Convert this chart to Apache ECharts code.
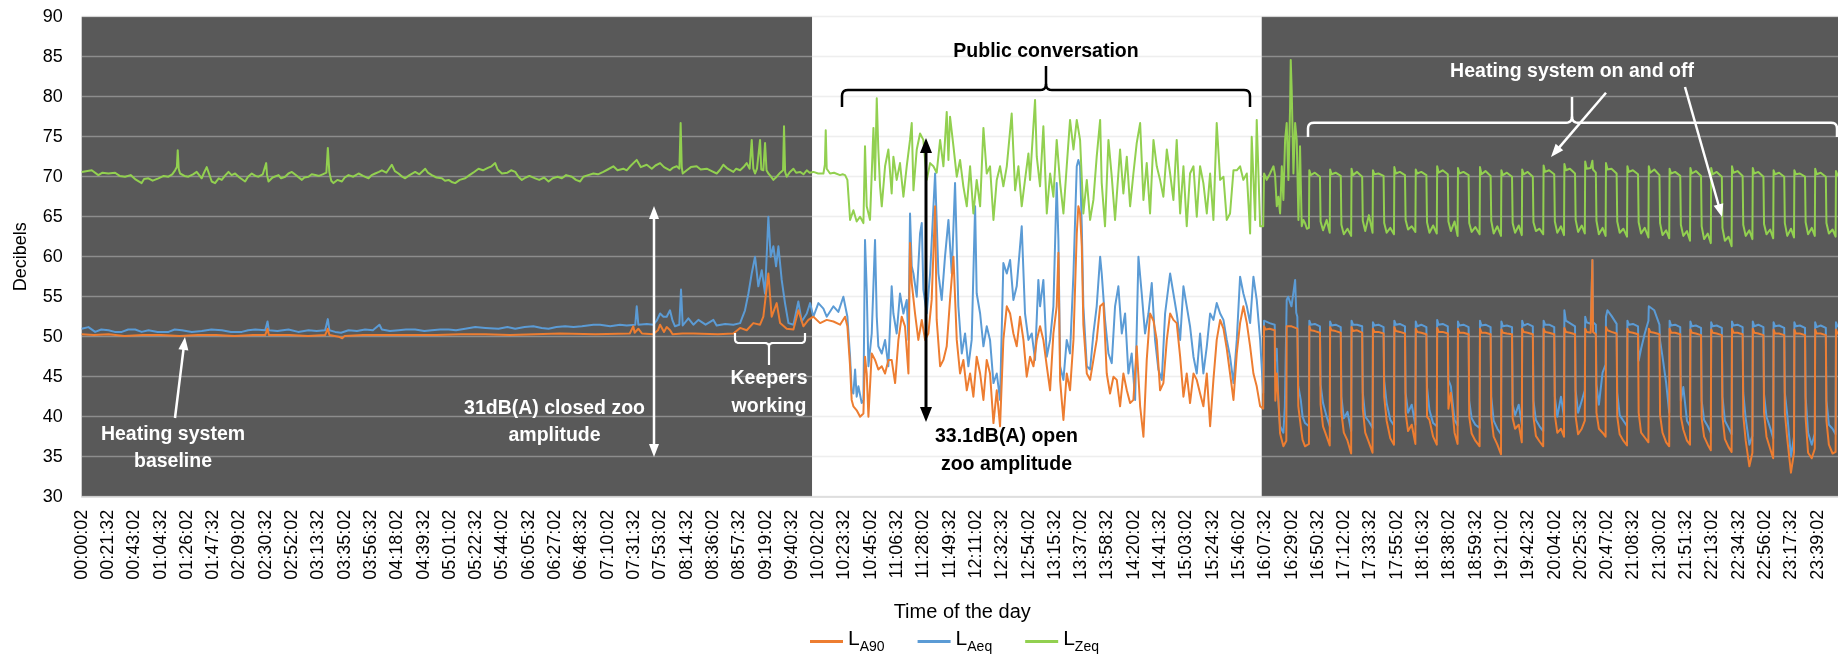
<!DOCTYPE html>
<html><head><meta charset="utf-8">
<script src="https://cdn.jsdelivr.net/npm/echarts/dist/echarts.min.js"></script>
<style>html,body{margin:0;padding:0;background:#fff}#c{width:1838px;height:656px}</style>
</head><body><div id="c"></div>
<script>
// x values: minutes after 00:00:02 ; y values: dB
const seriesNames = ['LA90', 'LAeq', 'LZeq'];
const yTicks = {min: 30, max: 90, step: 5};
const xTickStepMin = 21.5;           // one label every 21 min 30 s
const closedBands = [[0, 597], [964.6, 1439.5]];

const zeqNight = [[0,70.6],[8.2,70.8],[13.6,70.2],[17,70.5],[21.8,70.4],[27.3,70.5],[31,70.1],[35.4,70.0],[40,70.2],[43.6,69.7],[49,69.2],[51,69.7],[54.5,69.8],[58,69.5],[62.7,69.8],[67,70.1],[70.9,70.0],[74,70.3],[76.3,70.8],[77.8,71.2],[78.5,73.3],[79.3,71.0],[80.4,70.4],[84,70.1],[87.2,70.0],[91,70.3],[94,70.6],[98.1,69.8],[100,70.5],[102.2,71.2],[104,70.4],[106.3,69.4],[109,69.2],[112,69.8],[114.5,69.6],[117,70.1],[120,70.6],[122.5,70.2],[125.4,70.4],[129,69.9],[133.6,69.4],[136,70.0],[139,70.4],[142,70.1],[144.5,70.0],[148,70.3],[150.8,71.7],[151.5,70.2],[152.7,69.4],[156,69.9],[160.9,70.2],[163,69.8],[166.3,70.0],[169,70.4],[171.8,70.6],[175,70.2],[180,69.6],[182,69.9],[185.4,70.0],[188,70.3],[190.9,70.2],[194,70.1],[197,70.3],[200,70.5],[201.2,73.6],[202.4,70.6],[204,69.5],[205.8,69.2],[209,69.6],[212.7,69.4],[215,69.9],[218.1,70.2],[222,70.0],[226.3,70.4],[230,70.1],[234.5,69.8],[237,70.2],[239.9,70.4],[243,70.6],[245.4,70.8],[249,70.5],[253.5,71.5],[256,70.7],[259,70.4],[262,70.0],[264.4,69.8],[268,70.2],[272.6,70.6],[276,70.3],[280.8,71.0],[283,70.5],[286.2,70.2],[290,69.9],[294.4,69.8],[297,69.5],[299.9,69.6],[303,69.3],[305.3,69.2],[309,69.6],[313.5,69.8],[317,70.2],[320,70.5],[324.4,71.0],[328,70.8],[332,71.1],[335,71.3],[338,71.7],[340,70.9],[343.5,70.4],[348,70.5],[351,70.8],[354.4,70.6],[357,70.0],[359.8,69.6],[363,69.9],[366,70.1],[370.7,69.8],[374,69.6],[378,69.9],[381.6,69.4],[385,69.8],[389,70.0],[392.5,69.8],[396,70.2],[400.7,70.0],[404,69.6],[407.4,69.4],[410.1,70.0],[414,70.2],[418.3,70.4],[422,70.3],[426.4,70.6],[430,70.9],[434.6,71.3],[438,70.8],[442.8,71.0],[445.5,70.8],[449,71.4],[453.7,72.1],[457,71.2],[461.9,71.5],[466,71.0],[469,71.4],[472.8,71.7],[476,71.2],[480.9,70.8],[483,71.1],[486.4,71.3],[488.6,71.0],[489.6,76.7],[490.5,71.2],[491.3,70.4],[494.6,70.8],[498,71.2],[502.7,71.3],[506,70.9],[510.9,71.0],[515,70.7],[519.1,70.4],[522,70.9],[524.5,71.5],[528,71.0],[532.7,70.6],[535,71.0],[538.2,70.8],[541,71.2],[543.6,71.7],[546,71.0],[547.7,74.6],[549,71.0],[550.4,70.4],[552,71.0],[554.5,74.6],[555.5,70.9],[557.2,70.8],[558.6,74.2],[559.8,70.8],[561.3,70.4],[563,70.1],[565.4,69.6],[568.1,70.0],[571,70.5],[573.3,70.8],[574.1,76.3],[575,70.6],[576.3,70.0],[579,70.6],[581.8,71.0],[584,70.5],[587.2,70.6],[590,70.3],[592.7,70.8],[595,70.5],[598.1,70.6],[602,70.4],[606.3,70.4],[607.5,71.5],[608.2,75.8],[609,71.0],[611.7,70.4],[615,70.5],[619.9,70.2],[622,70.3],[624,70.2],[625.9,69.6]];

const aeqNight = [[0,51.0],[5.5,51.2],[11,50.6],[16,50.9],[21.9,50.8],[27,50.6],[32.8,50.6],[38,50.9],[43.7,50.9],[49,50.6],[54.6,50.8],[62,50.6],[71,50.6],[76,50.9],[81.9,50.8],[90,50.6],[98.2,50.7],[106,50.9],[114.6,50.8],[122,50.6],[130.9,50.6],[136,50.8],[141.8,50.9],[150,50.8],[151.9,51.9],[153,50.8],[160,50.7],[169,50.9],[177,50.6],[185.4,50.8],[192,50.7],[199,50.8],[201.2,52.2],[202.5,50.8],[207.2,50.6],[212,50.5],[218.1,50.8],[225,50.7],[231.7,50.9],[238,50.8],[243.4,51.5],[245.4,50.9],[252,50.7],[259,50.8],[265,50.9],[272.6,50.9],[280,50.7],[286.2,50.8],[293,50.9],[299.9,50.9],[306,50.8],[313.5,51.0],[321.7,51.2],[330,51.1],[340.7,51.0],[348,51.2],[354.4,51.0],[362,51.2],[369.2,51.3],[376,51.1],[381.6,51.0],[388,51.2],[395.2,51.3],[402,51.2],[408.9,51.3],[418.3,51.5],[423.7,51.5],[432,51.3],[440,51.5],[445.5,51.4],[452.5,51.5],[453.7,53.8],[455,51.5],[462,51.6],[467.3,51.5],[470,52.0],[472.8,52.9],[475.5,52.5],[478.2,52.5],[480.9,53.3],[483,52.0],[485,51.3],[488.5,51.5],[489.9,55.9],[491.3,51.4],[495.9,52.3],[500,51.5],[504.1,52.1],[510,51.5],[516.4,52.1],[519,51.4],[526,51.6],[532.7,51.5],[538.2,51.7],[542.2,53.3],[545,55.4],[547.7,57.9],[550.4,60.0],[553.1,56.3],[555.9,58.3],[558.6,55.4],[561.3,65.0],[563.2,60.0],[565.4,61.3],[567.6,58.8],[569.5,61.3],[572.2,57.1],[574.9,54.2],[577.7,51.7],[581.8,51.5],[585.8,54.4],[588.6,51.9],[592.7,52.9],[595.4,54.2],[598.1,52.5],[602.2,54.2],[606.3,53.5],[609,52.5],[614.5,53.8],[618.5,53.1],[622.6,55.0],[625.9,52.5]];

const a90Night = [[0,50.3],[10,50.2],[22,50.3],[35,50.1],[50,50.2],[65,50.2],[80,50.1],[95,50.2],[110,50.2],[125,50.1],[140,50.2],[150,50.2],[151.9,51.0],[153,50.2],[170,50.2],[185,50.1],[199,50.2],[201.2,51.0],[202.5,50.2],[210,50.0],[211.5,49.8],[213,49.8],[215,50.1],[230,50.2],[250,50.2],[270,50.2],[290,50.2],[310,50.3],[330,50.3],[350,50.2],[370,50.3],[391,50.4],[420,50.3],[448,50.4],[450.9,51.3],[452,50.5],[455,51.0],[458,50.4],[467,50.3],[471,50.8],[472.8,51.5],[476,50.6],[478.2,51.2],[481,50.8],[483,50.3],[491,50.4],[500,50.4],[520,50.3],[532.7,50.4],[538.2,51.1],[543.6,50.8],[549,51.7],[554.5,51.5],[557.2,52.5],[561.3,57.9],[564,52.5],[568.1,54.2],[570.9,51.7],[576.3,51.0],[581.8,50.9],[585.8,53.3],[589.9,51.3],[594,52.1],[598.1,52.5],[603.6,51.7],[609,52.1],[614.5,51.9],[619.9,51.5],[624,52.5],[625.9,51.3]];

const zeqDay = [[628.1,64.6],[630.8,65.8],[633.5,64.4],[636.3,65.0],[639,64.2],[640.3,73.8],[641.7,66.3],[644.4,64.6],[647.2,76.1],[648.5,69.6],[649.9,79.8],[651.2,73.4],[652.6,68.8],[654,66.3],[656.7,71.3],[659.4,73.4],[662.1,67.9],[663.5,72.5],[666.2,69.6],[668.9,71.7],[671.7,67.5],[674.4,71.3],[677.1,74.6],[678.5,76.7],[679.9,68.3],[682.6,73.4],[685.3,75.4],[688,74.6],[690.8,69.6],[693.5,71.7],[696.2,71.3],[698.9,70.5],[701.7,74.6],[704.4,71.3],[707.1,78.1],[708.5,72.1],[709.8,77.5],[712.6,73.8],[715.3,70.0],[718,72.1],[720.7,68.8],[723.5,66.3],[726.2,71.3],[728.9,65.4],[731.6,69.6],[734.4,66.3],[737.1,76.1],[739.8,70.4],[742.5,71.3],[745.3,64.6],[748,69.6],[750.7,71.3],[753.4,68.8],[756.2,71.3],[760.2,77.9],[763,68.3],[765.7,71.3],[768.4,66.3],[771.1,69.6],[773.9,72.9],[775.2,69.6],[779.3,79.6],[780.7,72.5],[783.4,68.8],[786.1,76.3],[788.9,65.4],[791.6,70.4],[794.3,67.5],[797,74.6],[799.8,69.2],[802.5,65.4],[805.2,71.3],[807.9,77.1],[810.7,73.4],[813.4,77.1],[816.1,74.6],[818.8,65.4],[821.6,69.6],[824.3,64.6],[827,67.1],[829.7,72.5],[832.5,77.1],[833.8,69.2],[836.5,63.8],[839.3,74.6],[842,70.0],[844.7,64.6],[847.4,70.4],[848.8,73.4],[851.5,67.9],[854.3,72.5],[857,66.3],[859.7,70.4],[862.4,74.2],[865.2,76.7],[867.9,67.1],[870.6,71.7],[873.3,65.4],[876.1,74.6],[878.8,71.3],[881.5,69.6],[884.2,67.5],[887,73.4],[889.7,70.4],[892.4,67.1],[895.1,74.6],[897.9,65.4],[900.6,71.3],[903.3,63.8],[906,70.4],[908.8,71.3],[911.5,65.0],[914.2,71.3],[916.9,69.2],[919.7,65.4],[922.4,70.4],[925.1,64.6],[927.8,76.7],[930.6,69.6],[933.3,70.0],[936,64.6],[938.7,65.4],[941.5,70.8],[944.2,70.8],[946.9,71.3],[949.6,69.6],[952.4,70.4],[955.1,62.9],[956.4,75.0],[959.2,64.6],[960.5,77.1],[963.3,63.8],[965.8,63.8],[966.5,70.4],[968.7,69.6],[971.4,70.4],[974.2,71.3],[975.5,70.2],[976.9,66.3],[978.2,67.5],[979.6,65.4],[981,71.3],[982.3,67.1],[983.7,74.6],[985,76.7],[986.4,69.6],[987.8,78.8],[988.3,84.6],[989.1,80.8],[990.5,70.4],[991.9,76.7],[993.2,74.6],[994.6,64.6],[995.9,73.8],[997.3,63.8],[998.7,64.6],[1000,64.2],[1001.5,63.5],[1003.2,63.6]];

const aeqDay = [[628.1,47.5],[629.4,43.3],[630.8,42.9],[632.2,45.9],[633.5,42.5],[634.9,43.8],[637.6,41.7],[639,42.1],[640.3,62.1],[641.7,55.9],[643.1,46.3],[645.8,50.4],[648.5,62.1],[649.9,52.5],[651.2,48.8],[654,47.9],[656.7,49.6],[659.4,46.3],[662.1,56.3],[663.5,52.9],[666.2,50.4],[668.9,55.4],[671.7,52.9],[674.4,54.6],[675.8,49.6],[677.1,65.4],[678.5,58.8],[679.9,57.9],[682.6,55.0],[685.3,62.9],[686.7,64.2],[688,55.9],[690.8,52.9],[693.5,57.9],[697.6,70.4],[700.3,57.9],[703,54.6],[705.7,60.0],[708.5,64.6],[711.2,57.9],[713.9,69.2],[716.6,53.8],[719.4,47.9],[722.1,50.4],[724.8,46.3],[727.5,49.6],[730.3,66.3],[731.6,55.4],[734.4,52.9],[737.1,48.8],[739.8,51.3],[742.5,49.6],[745.3,44.2],[748,45.4],[750.7,42.1],[753.4,59.2],[756.2,57.9],[758.9,59.6],[761.6,54.6],[764.3,56.3],[768.4,63.8],[771.1,52.9],[773.9,49.6],[776.6,50.4],[779.3,47.1],[782,57.1],[783.4,53.8],[786.1,57.1],[788.9,47.5],[791.6,49.6],[794.3,53.8],[797,69.2],[798.4,62.1],[799.8,46.3],[802.5,44.6],[805.2,49.6],[807.9,47.9],[810.7,57.9],[813.4,71.3],[814.7,72.1],[816.1,71.3],[817.5,63.8],[818.8,53.8],[821.6,46.3],[824.3,45.9],[827,50.4],[829.7,53.8],[832.5,60.0],[833.8,57.9],[836.5,52.1],[839.3,47.9],[842,46.7],[844.7,53.8],[847.4,56.3],[850.2,50.4],[852.9,52.9],[855.6,45.4],[858.3,47.9],[861.1,42.1],[863.8,60.0],[866.5,55.4],[869.2,50.4],[872,52.9],[874.7,56.7],[877.4,49.6],[880.1,45.9],[882.9,44.6],[885.6,52.9],[889.7,57.9],[892.4,55.4],[895.1,52.9],[897.9,49.6],[900.6,56.3],[903.3,53.8],[906,51.3],[908.8,47.5],[911.5,45.4],[914.2,50.4],[916.9,45.4],[919.7,48.8],[922.4,52.9],[925.1,52.1],[927.8,54.2],[930.6,52.9],[933.3,52.1],[936,49.6],[938.7,47.5],[941.5,44.2],[944.2,49.6],[946.9,57.5],[949.6,55.4],[952.4,53.8],[955.1,51.7],[957.8,57.5],[960.5,54.6],[963.3,49.6],[965.8,43.0],[966.5,52.0],[967.7,51.8],[971,51.7],[975.2,51.5],[975.7,47.0],[976.9,48.5],[978.2,42.0],[979.6,38.8],[982.3,38.0],[983.5,41.3],[985,54.6],[986.2,55.0],[988.9,53.8],[990.5,55.5],[991.9,57.1],[992.8,53.0],[993.7,52.5],[994.5,43.8],[996.5,42.1],[998,40.0],[1000,39.2],[1003.2,38.8]];

const a90Day = [[628.1,46.3],[629.4,42.1],[630.8,41.3],[633.5,40.8],[636.3,40.0],[639,40.4],[640.3,47.5],[641.7,45.4],[643.1,40.0],[645.8,47.9],[648.5,47.1],[651.2,45.9],[654,46.3],[656.7,45.4],[659.4,47.1],[662.1,47.1],[664.9,44.2],[667.6,49.6],[670.3,52.5],[673,51.3],[675.8,45.4],[677.1,61.7],[678.5,56.7],[681.2,52.9],[683.9,49.6],[686.7,52.1],[689.4,49.6],[692.1,50.4],[694.8,54.6],[697.6,66.3],[698.9,52.1],[701.7,46.3],[704.4,47.1],[707.1,48.8],[709.8,54.6],[712.6,60.0],[715.3,49.6],[718,45.4],[720.7,47.1],[723.5,43.3],[726.2,45.4],[728.9,42.5],[731.6,47.5],[734.4,45.4],[737.1,42.1],[739.8,47.1],[742.5,45.4],[745.3,39.2],[748,43.3],[750.7,38.8],[753.4,49.6],[756.2,53.8],[758.9,52.9],[761.6,50.4],[764.3,48.8],[767,52.5],[769.8,49.6],[772.5,45.0],[775.2,47.5],[778,46.3],[780.7,49.6],[783.4,51.3],[786.1,49.6],[788.9,46.3],[791.6,43.3],[794.3,50.4],[797,53.8],[798.4,60.5],[799.8,44.5],[801.1,42.1],[802.5,39.6],[805.2,45.4],[807.9,43.3],[810.7,49.6],[813.4,62.9],[814.7,66.3],[816.1,65.4],[817.5,61.3],[818.8,51.5],[821.6,45.4],[824.3,44.6],[827,47.1],[829.7,49.6],[832.5,53.8],[835.2,54.2],[837.9,45.4],[840.6,42.9],[843.4,45.0],[846.1,44.6],[848.8,41.3],[851.5,45.4],[854.3,43.3],[857,41.7],[859.7,42.1],[862.4,48.8],[865.2,41.3],[867.9,37.5],[870.6,47.1],[873.3,52.9],[876.1,52.0],[878.8,49.6],[881.5,43.3],[884.2,44.2],[887,49.6],[889.7,52.9],[892.4,52.1],[895.1,51.7],[897.9,47.5],[900.6,42.5],[903.3,45.4],[906,41.7],[908.8,45.4],[911.5,44.6],[914.2,42.9],[916.9,41.3],[919.7,45.4],[922.4,38.8],[925.1,44.6],[927.8,49.6],[930.6,52.1],[933.3,51.0],[936,48.5],[938.7,45.4],[941.5,42.1],[944.2,47.9],[946.9,51.7],[949.6,53.8],[952.4,51.7],[955.1,48.8],[957.8,45.4],[960.5,43.8],[963.3,41.3],[965.8,41.0],[966.5,51.3],[967.7,50.9],[971,51.0],[975.2,50.8],[975.7,42.0],[976.9,45.4],[978.2,42.1],[979.6,37.9],[982.3,36.3],[984.7,37.0],[985,51.3],[986.5,51.3],[989,51.3],[993.7,51.0],[994.5,41.3],[996.5,38.8],[998,37.1],[1000,36.3],[1003.2,36.6]];

// heating on/off cycles: one row per cycle
const eveningTimes = [
1003.5,1004.7,1008,1012.2,1012.7,1014.7,1017.7,1020.2,
1020.5,1021.7,1025,1029.2,1029.7,1031.7,1034.7,1037.7,
1038,1039.2,1042.5,1046.7,1047.2,1049.2,1052.2,1055.2,
1055.5,1056.7,1060,1064.2,1064.7,1066.7,1069.7,1072.7,
1073,1074.2,1077.5,1081.7,1082.2,1084.2,1087.2,1090.2,
1090.5,1091.7,1095,1099.2,1099.7,1101.7,1104.7,1107.7,
1108,1109.2,1112.5,1116.7,1117.2,1119.2,1122.2,1124.7,
1125,1126.2,1129.5,1133.7,1134.2,1136.2,1139.2,1142.7,
1143,1144.2,1147.5,1151.7,1152.2,1154.2,1157.2,1160.2,
1160.5,1161.7,1165,1169.2,1169.7,1171.7,1174.7,1177.2,
1177.5,1178.7,1182,1186.2,1186.7,1188.7,1191.7,1194.7,
1195,1196.2,1199.5,1203.7,1204.2,1206.2,1209.2,1211.7,
1212,1213.2,1216.5,1220.7,1221.2,1223.2,1226.2,1228.7,
1229,1230.2,1233.5,1234.4,1234.9,1235.4,1237.7,1238.2,1240.2,1243.2,1245.7,
1246,1247.2,1250.5,1254.7,1255.2,1257.2,1260.2,1263.2,
1263.5,1264.7,1268,1272.2,1272.7,1274.7,1277.7,1280.7,
1281,1282.2,1285.5,1289.7,1290.2,1292.2,1295.2,1297.7,
1298,1299.2,1302.5,1306.7,1307.2,1309.2,1312.2,1314.7,
1315,1316.2,1319.5,1323.7,1324.2,1326.2,1329.2,1331.7,
1332,1333.2,1336.5,1340.7,1341.2,1343.2,1346.2,1348.7,
1349,1350.2,1353.5,1357.7,1358.2,1360.2,1363.2,1365.7,
1366,1367.2,1370.5,1374.7,1375.2,1377.2,1380.2,1382.7,
1383,1384.2,1387.5,1391.7,1392.2,1394.2,1397.2,1399.7,
1400,1401.2,1404.5,1408.7,1409.2,1411.2,1414.2,1416.7,
1417,1418.2,1421.5,1425.7,1426.2,1428.2,1431.2,1433.7,
1434,1435.2,1438.5,1439.5];

const a90Evening = [
51.3,50.8,50.7,50.5,41.5,38.8,37.5,36.4,
51.2,50.8,50.7,50.5,40.5,38.0,37.0,35.4,
51.2,50.7,50.8,50.5,41.0,38.0,36.8,35.5,
51.0,50.6,50.6,50.4,42.5,39.5,37.3,36.5,
51.2,50.7,50.6,50.4,40.5,38.2,39.0,36.6,
51.0,50.6,50.5,50.3,40.0,39.6,37.5,36.5,
51.1,50.6,50.6,50.4,41.0,43.0,38.0,36.6,
51.0,50.5,50.5,50.3,40.0,37.9,37.0,36.3,
51.0,50.5,50.5,50.3,40.0,37.5,36.5,35.3,
50.9,50.5,50.4,50.3,39.8,38.5,39.0,36.8,
51.0,50.6,50.5,50.3,40.0,37.6,36.9,36.3,
51.0,50.6,50.5,50.3,40.2,38.0,38.5,37.5,
51.1,50.6,50.5,50.3,40.0,37.8,38.5,39.5,
51.0,50.6,50.5,50.5,59.6,50.6,50.3,40.5,38.5,38.0,37.5,
51.2,50.8,50.6,50.4,40.0,37.8,37.0,36.4,
51.0,50.6,50.5,50.3,40.5,38.0,37.4,36.8,
51.0,50.6,50.5,50.3,40.2,38.0,36.8,36.3,
51.0,50.5,50.5,50.3,40.0,38.4,37.0,36.5,
50.9,50.5,50.4,50.2,39.8,37.5,36.5,35.8,
50.9,50.5,50.4,50.2,40.0,37.2,36.2,35.6,
51.0,50.5,50.5,50.3,40.2,37.0,33.8,35.5,
51.0,50.5,50.4,50.2,40.5,37.5,36.0,34.8,
50.9,50.4,50.4,50.2,40.5,37.2,33.0,35.5,
50.9,50.4,50.4,50.2,39.8,35.5,34.8,36.0,
50.9,50.4,50.4,50.2,39.5,36.5,35.4,35.6,
50.9,50.4,50.4,50.3];

const aeqEvening = [
52.0,51.5,51.6,51.3,44.0,41.7,40.0,38.8,
51.9,51.4,51.5,51.2,42.5,39.8,40.6,38.2,
52.0,51.5,51.5,51.3,43.0,40.0,39.4,38.6,
51.8,51.4,51.5,51.2,44.5,41.7,39.6,38.9,
52.0,51.5,51.6,51.3,43.0,40.5,41.5,39.0,
51.9,51.3,51.5,51.2,43.7,40.8,39.2,38.8,
52.1,51.5,51.6,51.3,44.6,43.8,39.6,38.9,
51.9,51.4,51.5,51.2,42.0,39.8,39.0,38.6,
52.0,51.4,51.5,51.2,42.5,39.5,38.5,37.8,
51.9,51.3,51.4,51.2,41.5,40.2,41.5,39.0,
52.0,51.4,51.6,51.3,42.0,39.6,38.8,38.2,
52.0,51.5,51.5,51.2,42.5,40.0,42.5,40.0,
53.3,52.0,51.7,51.3,43.3,40.5,42.0,43.3,
52.5,51.8,51.6,51.6,59.6,51.8,51.5,44.0,41.5,45.5,46.5,
52.5,53.3,52.6,51.6,43.0,40.2,39.5,38.8,
52.0,51.5,51.6,51.3,47.0,48.5,50.4,52.0,
53.8,54.0,53.3,51.5,49.5,47.5,44.2,40.5,
52.0,51.4,51.5,51.2,42.0,43.7,39.5,38.8,
51.9,51.3,51.4,51.1,42.0,39.6,38.8,38.0,
51.8,51.3,51.4,51.1,42.5,39.5,38.6,37.8,
51.9,51.4,51.5,51.2,43.0,39.8,36.5,37.6,
51.9,51.3,51.5,51.2,42.8,40.0,38.6,37.3,
51.8,51.3,51.4,51.1,43.0,40.2,35.0,37.5,
51.8,51.3,51.4,51.1,42.5,38.0,36.5,37.9,
51.8,51.2,51.4,51.1,42.0,39.0,38.5,37.8,
51.8,51.3,51.4,51.2];

const zeqEvening = [
70.8,70.2,70.5,70.0,64.4,63.3,64.6,63.0,
70.9,70.3,70.5,70.1,64.0,62.8,63.5,62.6,
71.0,70.2,70.6,70.0,64.5,63.2,65.2,63.0,
70.8,70.3,70.4,70.1,64.2,63.0,63.6,62.8,
71.2,70.4,70.6,70.2,64.6,63.4,63.8,63.1,
70.9,70.4,70.6,70.2,64.3,63.0,63.9,62.9,
71.3,70.5,70.8,70.3,64.4,63.2,64.4,62.6,
71.1,70.4,70.6,70.2,64.2,63.1,63.7,62.8,
71.2,70.3,70.7,70.1,64.5,62.9,63.8,62.6,
70.8,70.2,70.5,70.0,64.2,63.0,63.9,62.7,
70.9,70.3,70.6,70.0,64.3,63.2,63.5,62.8,
71.4,70.6,70.8,70.3,64.4,63.0,63.8,62.7,
71.6,70.8,71.0,70.4,64.6,63.1,63.9,62.9,
71.9,71.0,71.1,71.2,72.0,70.9,70.5,64.5,62.8,63.6,62.6,
71.7,70.9,71.0,70.4,64.4,63.0,63.5,62.5,
71.3,70.6,70.8,70.3,64.3,62.9,63.6,62.4,
71.3,70.5,70.9,70.2,64.2,62.7,63.3,62.3,
71.0,70.4,70.6,70.1,64.0,62.6,63.2,62.0,
71.1,70.4,70.7,70.1,63.8,62.2,62.9,61.7,
71.1,70.3,70.6,70.0,63.6,62.0,62.5,61.3,
71.3,70.5,70.7,70.1,64.0,62.6,63.3,62.2,
71.1,70.4,70.6,70.0,64.1,62.8,63.4,62.3,
70.8,70.3,70.5,70.0,64.2,62.6,63.5,62.4,
70.8,70.3,70.4,70.0,64.3,62.8,63.6,62.6,
71.0,70.3,70.5,70.0,64.2,62.9,63.4,62.5,
70.7,70.2,70.5,70.1];

// ---------- build ----------
const pairs = (t, v) => t.slice(0, Math.min(t.length, v.length)).map((x, i) => [x, v[i]]);
const la90 = a90Night.concat(a90Day, pairs(eveningTimes, a90Evening));
const laeq = aeqNight.concat(aeqDay, pairs(eveningTimes, aeqEvening));
const lzeq = zeqNight.concat(zeqDay, pairs(eveningTimes, zeqEvening));

const FONT = '"Liberation Sans", Arial, sans-serif';
function fmtTime(v) {
  const s = Math.round(v * 60) + 2;
  const p = n => String(n).padStart(2, '0');
  return p(Math.floor(s / 3600)) + ':' + p(Math.floor((s % 3600) / 60)) + ':' + p(s % 60);
}

// ---------- annotation helpers ----------
const ANN = 'bold 19.5px ' + FONT;
function txt(x, y, s, color) {
  return {type: 'text', x, y, z: 100, silent: true,
    style: {text: s, fill: color, font: ANN, align: 'center', verticalAlign: 'middle'}};
}
function poly(points, color, w) {
  return {type: 'polyline', z: 100, silent: true, shape: {points},
    style: {stroke: color, lineWidth: w, fill: 'none', lineJoin: 'round'}};
}
function quad(p0, c, p1, n) {
  const out = [];
  for (let i = 1; i <= n; i++) {
    const t = i / n, a = (1 - t) * (1 - t), b = 2 * (1 - t) * t, d = t * t;
    out.push([a * p0[0] + b * c[0] + d * p1[0], a * p0[1] + b * c[1] + d * p1[1]]);
  }
  return out;
}
function brace(xl, xr, xc, yl, ye, yt, r, color, w) {
  const s1 = Math.sign(ye - yl), s2 = Math.sign(yt - yl);
  const left = [[xl, ye], [xl, yl + s1 * r]]
    .concat(quad([xl, yl + s1 * r], [xl, yl], [xl + r, yl], 5))
    .concat([[xc - r, yl]])
    .concat(quad([xc - r, yl], [xc, yl], [xc, yl + s2 * r], 5))
    .concat([[xc, yt]]);
  const right = [[xc, yl + s2 * r]]
    .concat(quad([xc, yl + s2 * r], [xc, yl], [xc + r, yl], 5))
    .concat([[xr - r, yl]])
    .concat(quad([xr - r, yl], [xr, yl], [xr, yl + s1 * r], 5))
    .concat([[xr, ye]]);
  return [poly(left, color, w), poly(right, color, w)];
}
function arrow(x1, y1, x2, y2, color, w, hl, hw, both) {
  const dx = x2 - x1, dy = y2 - y1, L = Math.hypot(dx, dy), ux = dx / L, uy = dy / L, px = -uy, py = ux;
  const head = (tx, ty, sx, sy) => ({type: 'polygon', z: 100, silent: true,
    shape: {points: [[tx, ty], [tx - sx * hl + px * hw / 2, ty - sy * hl + py * hw / 2], [tx - sx * hl - px * hw / 2, ty - sy * hl - py * hw / 2]]},
    style: {fill: color}});
  const a = both ? [x1 + ux * hl * 0.8, y1 + uy * hl * 0.8] : [x1, y1];
  const els = [{type: 'line', z: 100, silent: true,
    shape: {x1: a[0], y1: a[1], x2: x2 - ux * hl * 0.8, y2: y2 - uy * hl * 0.8},
    style: {stroke: color, lineWidth: w}}, head(x2, y2, ux, uy)];
  if (both) els.push(head(x1, y1, -ux, -uy));
  return els;
}

const annotations = [].concat(
  brace(842, 1250, 1046, 90, 107, 66, 6, '#000', 2.5),
  brace(1308, 1837, 1572, 122.7, 137, 97, 6, '#fff', 2.5),
  brace(735, 805, 769, 343, 333, 365, 4, '#fff', 2.2),
  arrow(175, 418, 185, 337, '#fff', 2.5, 13, 10, false),
  arrow(654, 206, 654, 457, '#fff', 2.5, 13, 10, true),
  arrow(926, 138, 926, 422, '#000', 3, 15, 12, true),
  arrow(1606, 92.7, 1551, 157, '#fff', 2.5, 13, 10, false),
  arrow(1685, 87, 1722, 217, '#fff', 2.5, 13, 10, false),
  [
    txt(1046, 52, 'Public conversation', '#000'),
    txt(1572, 72, 'Heating system on and off', '#fff'),
    txt(173, 435, 'Heating system', '#fff'),
    txt(173, 462, 'baseline', '#fff'),
    txt(554.5, 409, '31dB(A) closed zoo', '#fff'),
    txt(554.5, 436, 'amplitude', '#fff'),
    txt(769, 379, 'Keepers', '#fff'),
    txt(769, 407, 'working', '#fff'),
    txt(1006.5, 437, '33.1dB(A) open', '#000'),
    txt(1006.5, 465, 'zoo amplitude', '#000')
  ]
);

const chart = echarts.init(document.getElementById('c'), null, {renderer: 'canvas'});
const lineSeries = (name, data, color, z) => ({
  name, type: 'line', data, symbol: 'none', showSymbol: false, z, animation: false,
  sampling: null, clip: true,
  lineStyle: {color, width: 2, join: 'round'}, itemStyle: {color}
});

chart.setOption({
  animation: false,
  textStyle: {fontFamily: FONT},
  grid: {left: 81.7, top: 16.7, width: 1761, height: 480, outerBoundsMode: 'none', containLabel: false},
  xAxis: {
    type: 'value', min: 0, max: 1439.5, interval: xTickStepMin, z: 1,
    name: 'Time of the day', nameLocation: 'middle', nameGap: 106,
    nameTextStyle: {fontSize: 20, color: '#000', fontFamily: FONT},
    axisLine: {show: true, lineStyle: {color: '#d9d9d9', width: 1.5}},
    axisTick: {show: false}, splitLine: {show: false},
    axisLabel: {rotate: 90, margin: 13, fontSize: 18, color: '#000', fontFamily: FONT,
      formatter: fmtTime, showMaxLabel: false, showMinLabel: true, hideOverlap: false}
  },
  yAxis: {
    type: 'value', min: yTicks.min, max: yTicks.max, interval: yTicks.step, z: 1,
    name: 'Decibels', nameLocation: 'middle', nameGap: 52,
    nameTextStyle: {fontSize: 18, color: '#000', fontFamily: FONT},
    axisLine: {show: false}, axisTick: {show: false},
    axisLabel: {margin: 19, fontSize: 18, color: '#000', fontFamily: FONT},
    splitLine: {show: true, lineStyle: {color: 'rgba(215,215,215,0.42)', width: 1.3}}
  },
  legend: {
    data: seriesNames.map(n => ({name: n, icon: 'rect'})),
    left: 805, top: 624, itemWidth: 33, itemHeight: 3, itemGap: 33,
    formatter: n => '{l|L}{s|' + n.slice(1) + '}',
    textStyle: {color: '#000', fontFamily: FONT, rich: {
      l: {fontSize: 21, lineHeight: 25, verticalAlign: 'top', color: '#000', fontFamily: FONT},
      s: {fontSize: 14, verticalAlign: 'bottom', color: '#000', fontFamily: FONT}
    }}
  },
  series: [
    {type: 'line', data: [], silent: true, z: 0,
      markArea: {silent: true, z: 0.5, itemStyle: {color: '#595959'},
        data: closedBands.map(b => [{xAxis: b[0]}, {xAxis: b[1]}])}},
    lineSeries('LAeq', laeq, '#5B9BD5', 3),
    lineSeries('LA90', la90, '#ED7D31', 4),
    lineSeries('LZeq', lzeq, '#92D050', 5)
  ],
  graphic: {elements: annotations}
});
</script></body></html>
